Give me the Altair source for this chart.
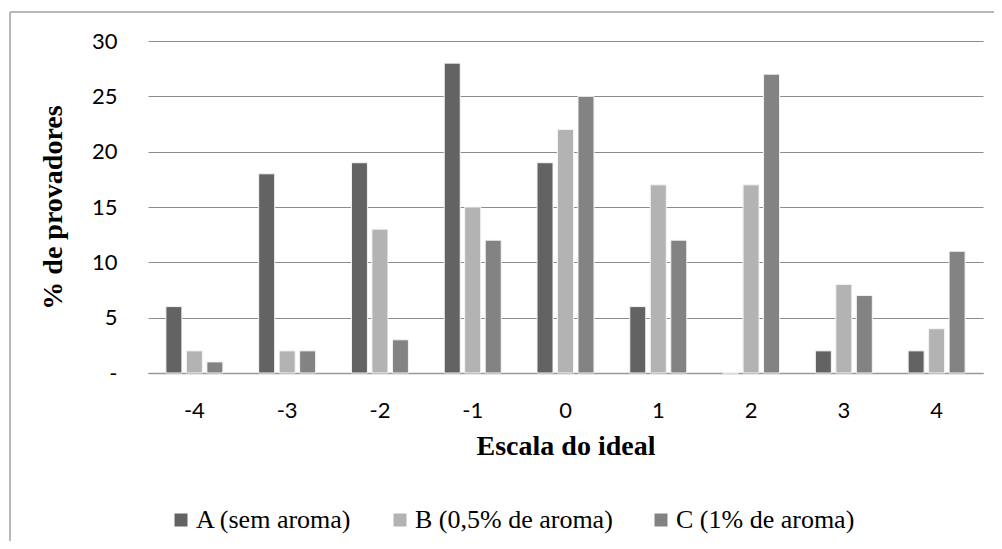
import altair as alt
import pandas as pd

categories = ["-4", "-3", "-2", "-1", "0", "1", "2", "3", "4"]
series_names = ["A (sem aroma)", "B (0,5% de aroma)", "C (1% de aroma)"]
values_a = [6, 18, 19, 28, 19, 6, 0, 2, 2]
values_b = [2, 2, 13, 15, 22, 17, 17, 8, 4]
values_c = [1, 2, 3, 12, 25, 12, 27, 7, 11]
colors = ["#636363", "#b3b3b3", "#838383"]

rows = []
for name, vals in zip(series_names, [values_a, values_b, values_c]):
    for cat, v in zip(categories, vals):
        rows.append({"escala": cat, "serie": name, "valor": v})
df = pd.DataFrame(rows)

W, H = 835, 332

bars = alt.Chart(df).mark_bar(stroke="#f4f4f4", strokeWidth=1).encode(
    x=alt.X("escala:N", sort=categories,
            scale=alt.Scale(paddingInner=0.386, paddingOuter=0.193),
            axis=alt.Axis(title="Escala do ideal", labelAngle=0, ticks=False,
                          labelFont="Lato", labelFontSize=22, labelColor="#000",
                          labelPadding=27, domainColor="#999999", domainWidth=1.3,
                          titleFont="Liberation Serif", titleFontSize=28,
                          titleFontWeight="bold", titleColor="#000", titlePadding=11)),
    xOffset=alt.XOffset("serie:N", sort=series_names,
                        scale=alt.Scale(paddingInner=0.22)),
    y=alt.Y("valor:Q", scale=alt.Scale(domain=[0, 30]),
            axis=alt.Axis(title="% de provadores", values=[0, 5, 10, 15, 20, 25, 30],
                          labelExpr="datum.value == 0 ? '-' : datum.label",
                          ticks=False, domain=False, grid=True,
                          gridColor="#8c8c8c", gridWidth=1.2,
                          labelFont="Lato", labelFontSize=22, labelColor="#000",
                          labelPadding=31,
                          titleFont="Liberation Serif", titleFontSize=28,
                          titleFontWeight="bold", titleColor="#000", titlePadding=24)),
    color=alt.Color("serie:N", sort=series_names,
                    scale=alt.Scale(domain=series_names, range=colors),
                    legend=alt.Legend(title=None, orient="none", direction="horizontal",
                                      legendX=20, legendY=466, padding=0,
                                      symbolType="square", symbolSize=169,
                                      symbolStrokeWidth=0, labelLimit=0,
                                      labelFont="Liberation Serif", labelFontSize=26,
                                      labelColor="#000", columnPadding=35,
                                      labelOffset=2)),
)

frame_top = alt.Chart(df).mark_rule(color="#b8b8b8", strokeWidth=1).encode(
    x=alt.value(-138), x2=alt.value(W + 20), y=alt.value(-29))
frame_left = alt.Chart(df).mark_rule(color="#b8b8b8", strokeWidth=1).encode(
    x=alt.value(-138), y=alt.value(-29), y2=alt.value(H + 180))

chart = alt.layer(frame_top, frame_left, bars).properties(
    width=W, height=H,
    background="white",
    autosize=alt.AutoSizeParams(type="none"),
    padding={"left": 140, "top": 33, "right": 11, "bottom": 168},
).configure_view(stroke=None).configure_legend(
    labelFont="Liberation Serif", labelFontSize=26, labelLimit=0
)

chart.save("out.html", embed_options={"renderer": "svg", "actions": False})
